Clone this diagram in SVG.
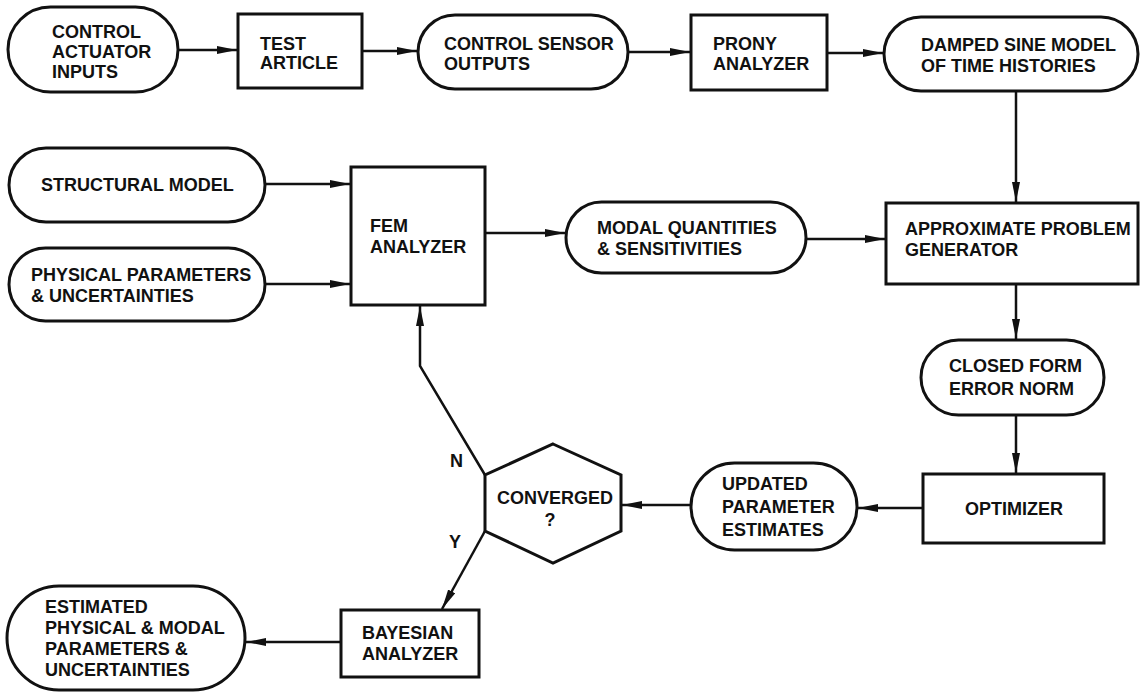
<svg xmlns="http://www.w3.org/2000/svg" width="1141" height="694" viewBox="0 0 1141 694">
<style>
.box{fill:#fff;stroke:#111;stroke-width:3}
.t{font-family:"Liberation Sans",Arial,sans-serif;font-weight:bold;font-size:18px;fill:#111}
.c{fill:none;stroke:#111;stroke-width:2.5}
</style>
<defs>
<marker id="ah" markerUnits="userSpaceOnUse" markerWidth="22" markerHeight="10" refX="20" refY="4" orient="auto">
<path d="M0,0 L20,4 L0,8 z" fill="#111"/>
</marker>
</defs>
<rect width="1141" height="694" fill="#fff"/>
<g id="connectors">
<path class="c" d="M178,50 H237" marker-end="url(#ah)"/>
<path class="c" d="M362,51 H417" marker-end="url(#ah)"/>
<path class="c" d="M628,52 H690" marker-end="url(#ah)"/>
<path class="c" d="M827,53 H883" marker-end="url(#ah)"/>
<path class="c" d="M1016,91 V202" marker-end="url(#ah)"/>
<path class="c" d="M265,184 H350" marker-end="url(#ah)"/>
<path class="c" d="M265,284 H350" marker-end="url(#ah)"/>
<path class="c" d="M485,233 H565" marker-end="url(#ah)"/>
<path class="c" d="M806,239 H885" marker-end="url(#ah)"/>
<path class="c" d="M1016,284 V339" marker-end="url(#ah)"/>
<path class="c" d="M1016,415 V473" marker-end="url(#ah)"/>
<path class="c" d="M923,508 H858" marker-end="url(#ah)"/>
<path class="c" d="M691,505 H622" marker-end="url(#ah)"/>
<path class="c" d="M485,475 L420,366 V306" marker-end="url(#ah)"/>
<path class="c" d="M485,531 L442,609" marker-end="url(#ah)"/>
<path class="c" d="M341,642 H246" marker-end="url(#ah)"/>
</g>
<g id="n_inputs"><rect class="box" x="8" y="7" width="170" height="85" rx="42.5"/>
<text class="t" x="52" y="38">CONTROL</text><text class="t" x="52" y="58">ACTUATOR</text><text class="t" x="52" y="78">INPUTS</text></g>
<g id="n_test"><rect class="box" x="238" y="14" width="124" height="74"/>
<text class="t" x="260" y="50">TEST</text><text class="t" x="260" y="69">ARTICLE</text></g>
<g id="n_sensor"><rect class="box" x="418" y="15" width="210" height="74" rx="37"/>
<text class="t" x="444" y="50">CONTROL SENSOR</text><text class="t" x="444" y="70">OUTPUTS</text></g>
<g id="n_prony"><rect class="box" x="691" y="15" width="136" height="75"/>
<text class="t" x="713" y="50">PRONY</text><text class="t" x="713" y="70">ANALYZER</text></g>
<g id="n_damped"><rect class="box" x="884" y="17" width="254" height="74" rx="37"/>
<text class="t" x="921" y="51">DAMPED SINE MODEL</text><text class="t" x="921" y="72">OF TIME HISTORIES</text></g>
<g id="n_struct"><rect class="box" x="9" y="148" width="256" height="74" rx="37"/>
<text class="t" x="41" y="191">STRUCTURAL MODEL</text></g>
<g id="n_phys"><rect class="box" x="9" y="248" width="256" height="73" rx="36.5"/>
<text class="t" x="31" y="281">PHYSICAL PARAMETERS</text><text class="t" x="31" y="302">&amp; UNCERTAINTIES</text></g>
<g id="n_fem"><rect class="box" x="351" y="167" width="134" height="138"/>
<text class="t" x="370" y="232">FEM</text><text class="t" x="370" y="253">ANALYZER</text></g>
<g id="n_modal"><rect class="box" x="566" y="202" width="240" height="71" rx="35.5"/>
<text class="t" x="597" y="234">MODAL QUANTITIES</text><text class="t" x="597" y="255">&amp; SENSITIVITIES</text></g>
<g id="n_apg"><rect class="box" x="886" y="203" width="252" height="81"/>
<text class="t" x="905" y="235">APPROXIMATE PROBLEM</text><text class="t" x="905" y="256">GENERATOR</text></g>
<g id="n_closed"><rect class="box" x="921" y="340" width="183" height="75" rx="37.5"/>
<text class="t" x="949" y="372">CLOSED FORM</text><text class="t" x="949" y="395">ERROR NORM</text></g>
<g id="n_opt"><rect class="box" x="923" y="474" width="181" height="69"/>
<text class="t" x="1014" y="515" text-anchor="middle">OPTIMIZER</text></g>
<g id="n_updated"><rect class="box" x="691" y="463" width="166" height="87" rx="43.5"/>
<text class="t" x="722" y="490">UPDATED</text><text class="t" x="722" y="513">PARAMETER</text><text class="t" x="722" y="536">ESTIMATES</text></g>
<g id="n_conv"><polygon class="box" points="553,444 621,475 621,531 553,563 485,531 485,475"/>
<text class="t" x="497" y="504">CONVERGED</text><text class="t" x="550" y="526" text-anchor="middle">?</text></g>
<g id="n_bayes"><rect class="box" x="341" y="610" width="138" height="67"/>
<text class="t" x="362" y="639">BAYESIAN</text><text class="t" x="362" y="660">ANALYZER</text></g>
<g id="n_est"><rect class="box" x="7" y="586" width="238" height="104" rx="52"/>
<text class="t" x="45" y="613">ESTIMATED</text><text class="t" x="45" y="634">PHYSICAL &amp; MODAL</text><text class="t" x="45" y="655">PARAMETERS &amp;</text><text class="t" x="45" y="676">UNCERTAINTIES</text></g>
<g id="labels"><text class="t" x="450" y="467">N</text><text class="t" x="449" y="548">Y</text></g>
</svg>
